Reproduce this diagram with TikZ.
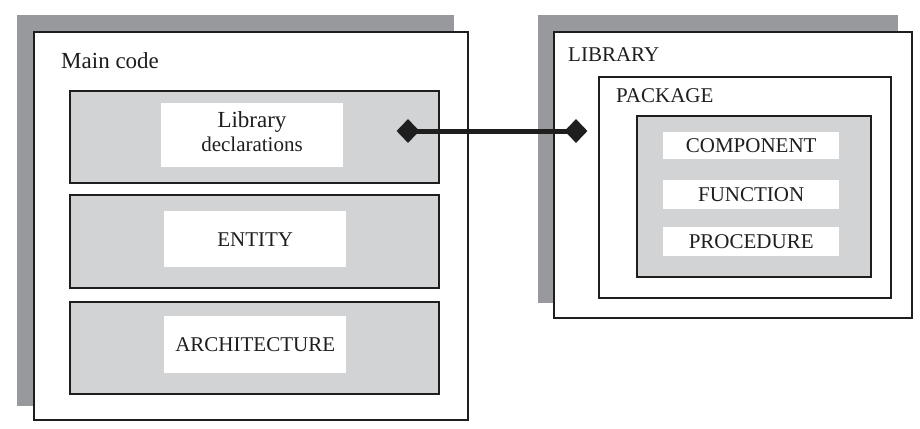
\documentclass[tikz,border=0pt]{standalone}
\usepackage{fontspec}
\setmainfont{Liberation Serif}
\usetikzlibrary{shapes.geometric}
\definecolor{shade}{RGB}{152,153,157}
\definecolor{panel}{RGB}{210,211,213}
\definecolor{ink}{RGB}{30,30,30}
\begin{document}
\begin{tikzpicture}[x=1pt,y=-1pt,
  shadowbox/.style={fill=shade, draw=none, inner sep=0pt, anchor=north west},
  frame/.style={draw=ink, line width=2pt, fill=white, inner sep=0pt, anchor=north west},
  panelbox/.style={draw=ink, line width=2pt, fill=panel, inner sep=0pt, anchor=north west},
  tag/.style={fill=white, inner sep=0pt, anchor=north west, align=center, text=ink, font=\fontsize{21}{24}\selectfont},
  title/.style={anchor=base west, inner sep=0pt, text=ink},
  tip/.style={diamond, fill=ink, inner sep=0pt, minimum width=23pt, minimum height=24pt}]
\useasboundingbox (0,0) rectangle (920,428);
% left part
\node[shadowbox, minimum width=437pt, minimum height=391pt] (mainshadow) at (17,15) {};
\node[frame, minimum width=434pt, minimum height=388pt] (main) at (33,31) {};
\node[title, font=\fontsize{23}{26}\selectfont] (maintitle) at (61,68) {Main code};
\node[panelbox, minimum width=369pt, minimum height=92pt] (p1) at (69,90) {};
\node[panelbox, minimum width=369pt, minimum height=93pt] (p2) at (69,194) {};
\node[panelbox, minimum width=369pt, minimum height=92pt] (p3) at (69,301) {};
\node[tag, minimum width=182pt, minimum height=64pt] (libdecl) at (161,103) {};
\node[anchor=base, inner sep=0pt, text=ink, font=\fontsize{23}{24}\selectfont] (libword) at (252,127) {Library};
\node[anchor=base, inner sep=0pt, text=ink, font=\fontsize{21}{24}\selectfont] (declword) at (252,151) {declarations};
\node[tag, minimum width=182pt, minimum height=56pt] (entity) at (164,211) {ENTITY};
\node[tag, minimum width=182pt, minimum height=57pt] (arch) at (164,316) {ARCHITECTURE};
% right part
\node[shadowbox, minimum width=360pt, minimum height=288pt] (libshadow) at (538,15) {};
\node[frame, minimum width=358pt, minimum height=286pt] (library) at (553,31) {};
\node[title, font=\fontsize{21}{24}\selectfont] (libtitle) at (568,61) {LIBRARY};
\node[frame, minimum width=292pt, minimum height=221pt] (package) at (598,76) {};
\node[title, font=\fontsize{21}{24}\selectfont] (pkgtitle) at (616,102) {PACKAGE};
\node[panelbox, minimum width=234pt, minimum height=161pt] (inner) at (636,115) {};
\node[tag, minimum width=176pt, minimum height=27pt] (component) at (663,132) {COMPONENT};
\node[tag, minimum width=176pt, minimum height=29pt] (function) at (663,180) {FUNCTION};
\node[tag, minimum width=176pt, minimum height=29pt] (procedure) at (663,227) {PROCEDURE};
% connector
\node[tip] (dl) at (408,131) {};
\node[tip] (dr) at (576,131) {};
\draw[ink, line width=5pt] (dl.center) -- (dr.center);
\end{tikzpicture}
\end{document}
